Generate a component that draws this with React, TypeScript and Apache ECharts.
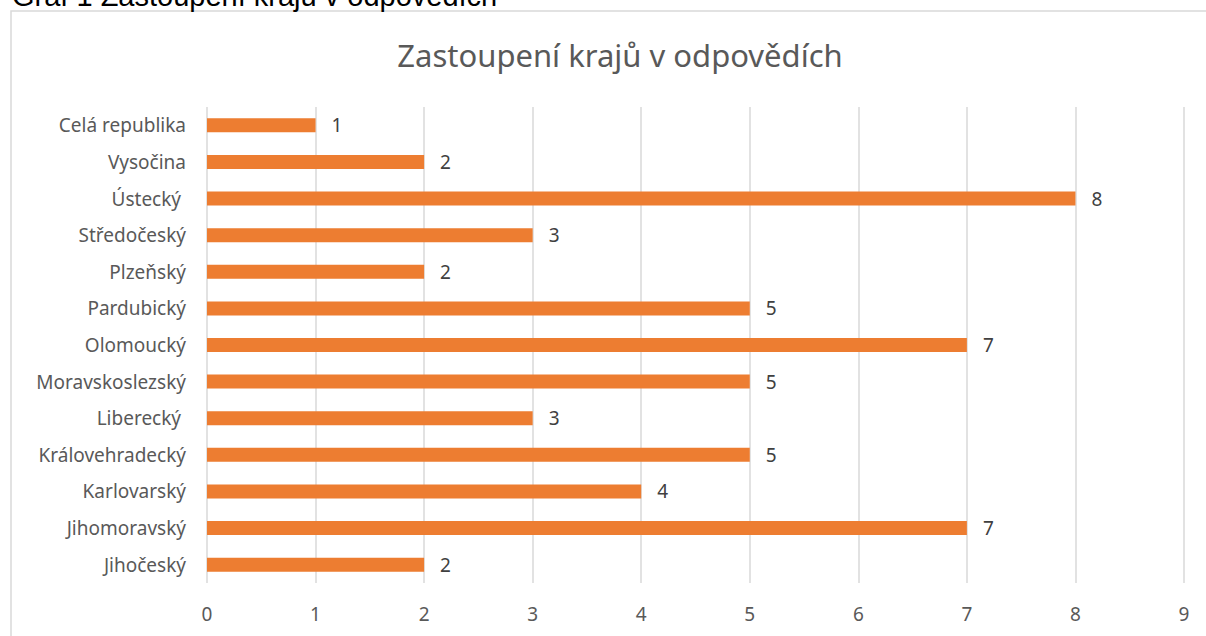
import React, { useEffect, useRef } from "react";
import * as echarts from "echarts";

const pageHeading = "Graf 1 Zastoupení krajů v odpovědích";
const chartTitle = "Zastoupení krajů v odpovědích";
const regions = [
  "Jihočeský",
  "Jihomoravský",
  "Karlovarský",
  "Královehradecký",
  "Liberecký ",
  "Moravskoslezský",
  "Olomoucký",
  "Pardubický",
  "Plzeňský",
  "Středočeský",
  "Ústecký ",
  "Vysočina",
  "Celá republika",
];
const counts = [2, 7, 4, 5, 3, 5, 7, 5, 2, 3, 8, 2, 1];
const xTicks = [0, 1, 2, 3, 4, 5, 6, 7, 8, 9];

export default function App() {
  const ref = useRef<HTMLDivElement>(null);
  useEffect(() => {
    if (!ref.current) return;
    const chart = echarts.init(ref.current, null, { renderer: "svg" });
    const font = "'Noto Sans', sans-serif";
    chart.setOption({
      animation: false,
      backgroundColor: "#ffffff",
      title: {
        text: chartTitle,
        left: 615,
        top: 34,
        textAlign: "center",
        textStyle: { color: "#595959", fontSize: 31, fontWeight: "normal", fontFamily: font },
      },
      graphic: [
        {
          type: "rect",
          shape: { x: 11, y: 11, width: 1400, height: 800 },
          style: { fill: "none", stroke: "#d9d9d9", lineWidth: 1.5 },
          silent: true,
          z: -1,
        },
        {
          type: "text",
          x: 12,
          y: -18.5,
          style: {
            text: pageHeading,
            fill: "#000000",
            fontSize: 29,
            fontFamily: "'Liberation Sans', Arial, sans-serif",
            verticalAlign: "top",
          },
        },
      ],
      grid: { left: 207, right: 22, top: 107, bottom: 53 },
      xAxis: {
        type: "value",
        min: xTicks[0],
        max: xTicks[xTicks.length - 1],
        interval: 1,
        axisLine: { show: false },
        axisTick: { show: false },
        splitLine: { show: true, lineStyle: { color: "#d9d9d9", width: 1.5 } },
        axisLabel: { color: "#595959", fontSize: 19, fontFamily: font, margin: 21 },
      },
      yAxis: {
        type: "category",
        data: regions,
        axisLine: { show: false },
        axisTick: { show: false },
        axisLabel: { color: "#595959", fontSize: 19, fontFamily: font, margin: 21 },
      },
      series: [
        {
          type: "bar",
          data: counts,
          barWidth: 14,
          itemStyle: { color: "#ED7D31" },
          label: {
            show: true,
            position: "right",
            distance: 16,
            color: "#404040",
            fontSize: 19,
            fontFamily: font,
          },
        },
      ],
    });
    return () => chart.dispose();
  }, []);
  return (
    <div
      ref={ref}
      style={{ position: "fixed", left: 0, top: 0, width: 1206, height: 636 }}
    />
  );
}
